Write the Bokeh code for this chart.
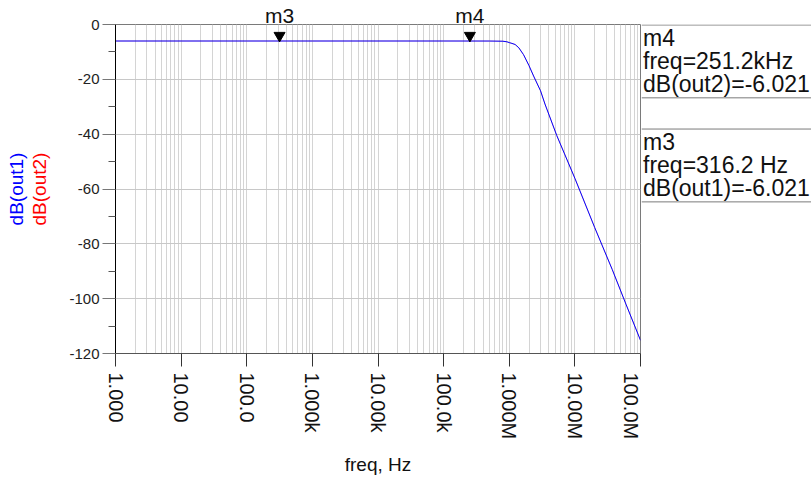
import math
from bokeh.plotting import figure
from bokeh.layouts import row
from bokeh.models import Range1d, FixedTicker, LinearAxis, LogAxis
from bokeh.embed import file_html
from bokeh.resources import INLINE
from bokeh.core.properties import value

# ---------------- data ----------------
freq_hz = [1.0, 10.0, 100.0, 1e3, 1e4, 1e5, 5e5, 8e5, 9.2e5, 1.0e6, 1.1e6, 1.23e6,
           1.4e6, 1.65e6, 2.0e6, 2.35e6, 3.0e6, 3.5e6, 5.3e6, 1.0e7, 2.0e7, 3.7e7,
           6.0e7, 1.0e8]
db_out1 = [-6.021, -6.021, -6.021, -6.021, -6.021, -6.021, -6.03, -6.1, -6.3, -6.6,
           -6.9, -7.3, -8.5, -11.0, -15.0, -18.8, -24.2, -29.0, -40.5, -56.1, -74.0,
           -89.3, -102.0, -115.2]
db_out2 = [-6.021, -6.021, -6.021, -6.021, -6.021, -6.021, -6.03, -6.1, -6.3, -6.6,
           -6.9, -7.3, -8.5, -11.0, -15.0, -18.8, -24.2, -29.0, -40.5, -56.1, -74.0,
           -89.3, -102.0, -115.2]

x_ticks = [1.0, 10.0, 100.0, 1e3, 1e4, 1e5, 1e6, 1e7, 1e8]
x_tick_labels = ["1.000", "10.00", "100.0", "1.000k", "10.00k", "100.0k",
                 "1.000M", "10.00M", "100.0M"]
y_ticks = [0, -20, -40, -60, -80, -100, -120]
y_tick_labels = ["0", "-20", "-40", "-60", "-80", "-100", "-120"]
y_minor_ticks = [-10, -30, -50, -70, -90, -110]

marker_names = ["m3", "m4"]
marker_freq = [316.2, 251.2e3]
marker_trace = ["dB(out1)", "dB(out2)"]
marker_value = [-6.021, -6.021]

x_label = "freq, Hz"
y_labels = ["dB(out1)", "dB(out2)"]
y_label_colors = ["#0000ff", "#ff0000"]

# ---------------- layout constants ----------------
FONT = "Liberation Sans"
W, H = 811, 478
FL, FT, FR, FB = 115, 23, 640, 355   # frame edges in page pixels
Y0, Y1 = -120, 0

p = figure(width=FR + 1, height=H, x_axis_type="log",
           x_range=Range1d(1, 1e8), y_range=Range1d(Y0, Y1),
           toolbar_location=None, output_backend="svg",
           min_border_left=FL, min_border_right=1,
           min_border_top=FT, min_border_bottom=H - FB)
p.background_fill_color = "white"
p.border_fill_color = "white"
p.outline_line_color = "#7a7a7a"

# x axis
minor_x = [k * 10 ** d for d in range(8) for k in range(2, 10)]
xt = FixedTicker(ticks=x_ticks, minor_ticks=minor_x)
p.xaxis.ticker = xt
p.xgrid.ticker = xt
p.xaxis.major_label_overrides = {t: s for t, s in zip(x_ticks, x_tick_labels)}
p.xaxis.major_label_orientation = -math.pi / 2
p.xaxis.major_label_text_font = FONT
p.xaxis.major_label_text_font_size = "20px"
p.xaxis.major_label_text_color = "#111111"
p.xaxis.major_label_standoff = 6
p.xaxis.major_tick_in = 0
p.xaxis.major_tick_out = 13
p.xaxis.minor_tick_in = 0
p.xaxis.minor_tick_out = 0
p.xaxis.major_tick_line_color = "#333333"
p.xaxis.axis_line_color = "#555555"
p.xaxis.axis_label = x_label
p.xaxis.axis_label_text_font = FONT
p.xaxis.axis_label_text_font_size = "19px"
p.xaxis.axis_label_text_font_style = "normal"
p.xaxis.axis_label_text_color = "#111111"
p.xaxis.axis_label_standoff = 12
p.xgrid.grid_line_color = "#d4d4d4"
p.xgrid.minor_grid_line_color = "#d4d4d4"

# y axis (nearest the frame: ticks + red title)
yt = FixedTicker(ticks=y_ticks, minor_ticks=y_minor_ticks)
p.yaxis.ticker = yt
p.ygrid.ticker = yt
p.yaxis.major_label_overrides = {t: s for t, s in zip(y_ticks, y_tick_labels)}
p.yaxis.major_label_text_font = FONT
p.yaxis.major_label_text_font_size = "15px"
p.yaxis.major_label_text_color = "#222222"
p.yaxis.major_label_standoff = 3
p.yaxis.major_tick_in = 0
p.yaxis.major_tick_out = 13
p.yaxis.minor_tick_in = 0
p.yaxis.minor_tick_out = 7
p.yaxis.major_tick_line_color = "#777777"
p.yaxis.minor_tick_line_color = "#555555"
p.yaxis.axis_line_color = "#000000"
p.yaxis.axis_label = y_labels[1]
p.yaxis.axis_label_text_color = y_label_colors[1]
p.yaxis.axis_label_text_font = FONT
p.yaxis.axis_label_text_font_size = "19px"
p.yaxis.axis_label_text_font_style = "normal"
p.yaxis.axis_label_standoff = 16
p.ygrid.grid_line_color = "#c8c8c8"

# outer blank axis carrying the blue title
ya2 = LinearAxis(ticker=FixedTicker(ticks=[]), axis_line_color=None,
                 major_tick_out=0, major_tick_in=0, minor_tick_out=0, minor_tick_in=0,
                 major_label_standoff=0, axis_label=y_labels[0],
                 axis_label_text_color=y_label_colors[0], axis_label_text_font=FONT,
                 axis_label_text_font_size="19px", axis_label_text_font_style="normal",
                 axis_label_standoff=0)
p.add_layout(ya2, "left")

# traces (red under blue)
p.line(freq_hz, db_out2, line_color="#ff0000", line_width=0.5, line_alpha=0.5)
p.line(freq_hz, db_out1, line_color="#0000ff", line_width=1)

# marker triangles
px_per_db = (FB - FT) / (Y1 - Y0)
tri_y = [v + 5.5 / px_per_db for v in marker_value]
p.scatter(marker_freq, tri_y, marker="inverted_triangle", size=11,
          fill_color="black", line_color="black")

# marker names, as tick labels of a bare axis above the frame
xa2 = LogAxis(ticker=FixedTicker(ticks=marker_freq, minor_ticks=[]),
              major_label_overrides={f: n for f, n in zip(marker_freq, marker_names)},
              axis_line_color=None, major_tick_out=0, major_tick_in=0,
              minor_tick_out=0, minor_tick_in=0, major_label_standoff=-2,
              major_label_text_font=FONT, major_label_text_font_size="21px",
              major_label_text_color="#111111")
p.add_layout(xa2, "above")

# ---------------- marker readout panel ----------------
PW = W - FR - 1
q = figure(width=PW, height=H, x_range=Range1d(0, PW), y_range=Range1d(FB, FT),
           min_border_left=0, min_border_right=0, min_border_top=FT,
           min_border_bottom=H - FB, toolbar_location=None, output_backend="svg",
           x_axis_location=None, y_axis_location=None)
q.outline_line_color = None
q.background_fill_color = "white"
q.border_fill_color = "white"
q.grid.visible = False


def fmt_freq(f):
    for scale, pre in ((1e9, "G"), (1e6, "M"), (1e3, "k")):
        if f >= scale:
            return "%.1f%sHz" % (f / scale, pre)
    return "%.1f Hz" % f


block_tops = [FT, 128]
order = [1, 0]  # m4 first, then m3
sep_y = []
tx, ty, tt = [], [], []
for top, idx in zip(block_tops, order):
    lines = [marker_names[idx],
             "freq=" + fmt_freq(marker_freq[idx]),
             "%s=%.3f" % (marker_trace[idx], marker_value[idx])]
    for j, s in enumerate(lines):
        tx.append(1.5)
        ty.append(top + 14 + 23 * j)
        tt.append(s)
    sep_y += [top + 0.5, top + 74]

q.segment(x0=[0] * len(sep_y), x1=[PW] * len(sep_y), y0=sep_y, y1=sep_y,
          line_color="#7a7a7a", line_width=1)
q.text(x=tx, y=ty, text=tt, text_font=value(FONT), text_font_size="23px",
       text_baseline="alphabetic", text_align="left", text_color="#111111")

layout = row(p, q)
open("out.html", "w").write(file_html(layout, INLINE))
